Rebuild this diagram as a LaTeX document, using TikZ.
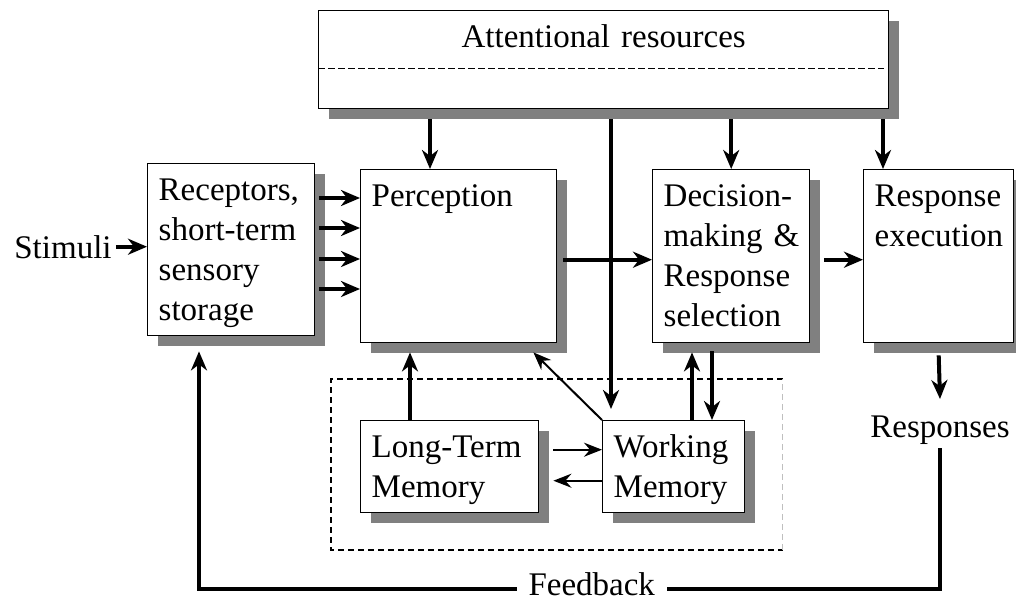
\documentclass[tikz,border=0pt]{standalone}
\usepackage{fontspec}
\setmainfont{Liberation Serif}
\usetikzlibrary{arrows.meta, calc, shadows}

\begin{document}
\begin{tikzpicture}[
    x=0.5pt, y=-0.5pt,
    font=\fontsize{16.5pt}{20pt}\selectfont,
    block/.style 2 args={
        rectangle,
        draw=black,
        fill=white,
        line width=0.7pt,
        anchor=north west,
        align=left,
        inner xsep=5.5pt,
        inner ysep=8pt,
        text width=#1,
        text height=10.5pt,
        text depth=#2,
        general shadow={fill=gray, shadow xshift=5pt, shadow yshift=-5pt}
    },
    txt/.style={inner sep=2pt},
    fb/.style={fill=white, inner xsep=6pt, inner ysep=2pt},
    frame/.style={dash pattern=on 3pt off 2pt, line width=0.7pt},
    thickarrow/.style={
        -{Stealth[length=9.5pt, width=8pt, inset=3pt]},
        line width=2pt
    },
    thinarrow/.style={
        -{Stealth[length=9pt, width=7pt, inset=3pt]},
        line width=1pt
    }
]
\useasboundingbox (0,0) rectangle (1016,601);

% Memory frame
\node[minimum width=225.5pt, minimum height=85pt, inner sep=0pt, anchor=north west] (mem) at (331,379) {};
\draw[frame] (mem.north east) -- (mem.north west) -- (mem.south west) -- (mem.south east);
\draw[frame, gray!50, line width=0.5pt] (mem.south east) -- (mem.north east);

% Position the blocks
\node[block={274pt}{22.5pt}, align=center] (attn) at (318,10) {Attentional resources};
\draw[dash pattern=on 3.5pt off 1.5pt, line width=0.6pt] ($(attn.west)+(0,9)$) -- ($(attn.east)+(-5,9)$);

\node[block={72.5pt}{59.5pt}] (recep) at (147,163) {Receptors,\\short-term\\sensory\\storage};
\node[block={87pt}{60pt}] (percep) at (360,169) {Perception};
\node[block={67.5pt}{60pt}] (decis) at (652,169) {Decision-\\making~\&\\Response\\selection};
\node[block={64pt}{60pt}] (resp) at (863,169) {Response\\execution};

\node[block={78pt}{19.5pt}] (ltm) at (360,420) {Long-Term\\Memory};
\node[block={60pt}{19.5pt}] (wm) at (602,420) {Working\\Memory};

% Free texts
\node[txt, anchor=base west] (stim) at (10,258) {Stimuli};
\node[txt, anchor=base] (resps) at (940,437) {Responses};

% Input side
\draw[thickarrow] (stim.east) -- (stim.east -| recep.west);
\foreach \y in {198,228,259,289}
    \draw[thickarrow] ($(recep.east |- 0,\y)+(4,0)$) -- (percep.west |- 0,\y);

% Attention arrows
\coordinate (pTop) at ($(percep.north west)+(70,0)$);
\coordinate (wTop) at ($(wm.north west)+(9,0)$);
\coordinate (rTop) at ($(resp.north west)+(20,0)$);
\draw[thickarrow] ($(attn.south -| pTop)+(0,10)$) -- (pTop);
\draw[thickarrow] ($(attn.south -| wTop)+(0,10)$) -- ($(wTop)+(0,-11)$);
\draw[thickarrow] ($(attn.south -| decis.north)+(0,10)$) -- (decis.north);
\draw[thickarrow] ($(attn.south -| rTop)+(0,10)$) -- (rTop);

% Main chain
\draw[thickarrow] ([xshift=3pt, yshift=-1.75pt]percep.east) -- ([yshift=-1.75pt]decis.west);
\draw[thickarrow] ([xshift=7pt, yshift=-1.75pt]decis.east) -- ([yshift=-1.75pt]resp.west);
\draw[thickarrow] ([yshift=-6pt]resp.south) -- ([yshift=6pt]resps.north);

% Memory arrows
\coordinate (ltmUp) at ($(ltm.north west)+(50,0)$);
\coordinate (wUp) at ($(wm.north west)+(90,0)$);
\coordinate (wDn) at ($(wm.north west)+(110,0)$);
\draw[thickarrow] (ltmUp) -- ($(ltmUp |- percep.south)+(0,9)$);
\draw[thinarrow] (wm.north west) -- ($(percep.south east)+(-24,9)$);
\draw[thickarrow] (wUp) -- ($(wUp |- decis.south)+(0,9)$);
\draw[thickarrow] ($(wDn |- decis.south)+(0,8)$) -- (wDn);
\draw[thinarrow] ([xshift=7pt, yshift=8.5pt]ltm.east) -- ([yshift=8.5pt]wm.west);
\draw[thinarrow] ([yshift=-7pt]wm.west) -- ([xshift=7pt, yshift=-7pt]ltm.east);

% Feedback loop
\coordinate (fbL) at (199,589);
\draw[thickarrow] (resps.south) |- node[fb, pos=0.735, yshift=2.5pt] (fbtext) {Feedback} (fbL)
    -- ($(recep.south -| fbL)+(0,15)$);

\end{tikzpicture}
\end{document}
